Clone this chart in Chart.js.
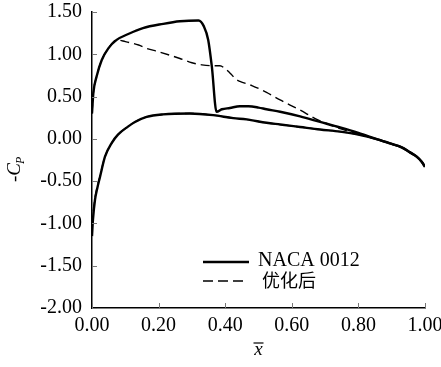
<!DOCTYPE html>
<html>
<head>
<meta charset="utf-8">
<script src="https://cdn.jsdelivr.net/npm/chart.js@4"></script>
<style>
  html, body { margin: 0; padding: 0; background: #fff; }
  #wrap { width: 441px; height: 367px; position: relative; }
</style>
</head>
<body>
<div id="wrap"><canvas id="c" width="441" height="367"></canvas></div>
<script>
// -Cp along the chord
const naca_up_x = [0, 0.004, 0.014, 0.029, 0.049, 0.074, 0.109, 0.153, 0.214, 0.264, 0.32, 0.336, 0.349, 0.36, 0.374, 0.39, 0.414, 0.444, 0.47, 0.50, 0.524, 0.565, 0.625, 0.685, 0.745, 0.80, 0.86, 0.90, 0.93, 0.955, 0.975, 0.99, 1.0];
const naca_up_y = [0.30, 0.54, 0.74, 0.93, 1.07, 1.17, 1.24, 1.31, 1.36, 1.39, 1.40, 1.33, 1.17, 0.85, 0.32, 0.35, 0.365, 0.385, 0.385, 0.37, 0.35, 0.32, 0.265, 0.20, 0.135, 0.07, -0.01, -0.06, -0.10, -0.16, -0.21, -0.27, -0.33];
const naca_lo_x = [0, 0.003, 0.009, 0.016, 0.024, 0.039, 0.059, 0.078, 0.108, 0.129, 0.164, 0.214, 0.294, 0.364, 0.424, 0.464, 0.524, 0.565, 0.625, 0.685, 0.745, 0.80, 0.86, 0.90, 0.93, 0.955, 0.975, 0.99, 1.0];
const naca_lo_y = [-1.15, -0.95, -0.72, -0.58, -0.45, -0.21, -0.05, 0.05, 0.145, 0.20, 0.26, 0.29, 0.30, 0.28, 0.245, 0.23, 0.19, 0.17, 0.14, 0.11, 0.085, 0.05, -0.01, -0.06, -0.10, -0.16, -0.21, -0.27, -0.33];
const opt_up_x = [0, 0.004, 0.014, 0.029, 0.049, 0.074, 0.10, 0.14, 0.164, 0.20, 0.264, 0.30, 0.33, 0.36, 0.384, 0.40, 0.414, 0.434, 0.444, 0.48, 0.524, 0.565, 0.625, 0.675, 0.70, 0.745, 0.80, 0.86, 0.90, 0.93, 0.955, 0.975, 0.99, 1.0];
const opt_up_y = [0.30, 0.54, 0.74, 0.93, 1.07, 1.17, 1.15, 1.11, 1.07, 1.03, 0.95, 0.90, 0.875, 0.865, 0.865, 0.83, 0.78, 0.70, 0.68, 0.63, 0.55, 0.46, 0.34, 0.23, 0.19, 0.12, 0.06, -0.01, -0.06, -0.10, -0.16, -0.21, -0.27, -0.33];
const opt_lo_x = [0, 0.003, 0.009, 0.016, 0.024, 0.039, 0.059, 0.078, 0.108, 0.129, 0.164, 0.214, 0.294, 0.364, 0.424, 0.464, 0.524, 0.565, 0.625, 0.685, 0.745, 0.80, 0.86, 0.90, 0.93, 0.955, 0.975, 0.99, 1.0];
const opt_lo_y = [-1.02, -0.90, -0.70, -0.56, -0.44, -0.21, -0.05, 0.05, 0.145, 0.20, 0.26, 0.29, 0.30, 0.28, 0.245, 0.23, 0.19, 0.17, 0.14, 0.11, 0.085, 0.05, -0.01, -0.06, -0.10, -0.16, -0.21, -0.27, -0.33];

const xTicks = [0, 0.2, 0.4, 0.6, 0.8, 1.0];
const yTicks = [-2.0, -1.5, -1.0, -0.5, 0.0, 0.5, 1.0, 1.5];
const legendNames = ["NACA 0012", "优化后"];

const SERIF = "'Liberation Serif', 'DejaVu Serif', serif";
const CJK = "'Noto Sans CJK SC', sans-serif";

function pts(xs, ys) {
  return xs.map((x, i) => ({ x: x, y: ys[i] }));
}

function line(data, dashed) {
  return {
    data: data,
    showLine: true,
    borderColor: "#000",
    borderWidth: dashed ? 1.4 : 2.4,
    borderDash: dashed ? [9, 5] : [],
    pointRadius: 0,
    cubicInterpolationMode: "monotone",
    fill: false,
  };
}

// no label overflow padding: plot box is fixed by layout.padding
function noScalePad(s) {
  s.paddingTop = 0; s.paddingBottom = 0; s.paddingLeft = 0; s.paddingRight = 0;
}

// inside tick marks, axis titles and the legend box
const extras = {
  id: "extras",
  afterDraw(chart) {
    const ctx = chart.ctx;
    const xs = chart.scales.x, ys = chart.scales.y;
    const a = chart.chartArea;
    ctx.save();
    ctx.strokeStyle = "#777";
    ctx.lineWidth = 1;
    for (const v of yTicks) {
      const py = Math.round(ys.getPixelForValue(v)) + 0.5;
      ctx.beginPath(); ctx.moveTo(a.left, py); ctx.lineTo(a.left + 5, py); ctx.stroke();
    }
    for (const v of xTicks) {
      const px = Math.round(xs.getPixelForValue(v)) + 0.5;
      ctx.beginPath(); ctx.moveTo(px, a.bottom); ctx.lineTo(px, a.bottom - 5); ctx.stroke();
    }

    // x title: x with overline
    ctx.fillStyle = "#000";
    ctx.font = "italic 19px " + SERIF;
    ctx.textAlign = "center";
    ctx.textBaseline = "alphabetic";
    const cx = (a.left + a.right) / 2;
    ctx.fillText("x", cx, 355);
    ctx.strokeStyle = "#000";
    ctx.lineWidth = 1.2;
    ctx.beginPath(); ctx.moveTo(cx - 5, 343); ctx.lineTo(cx + 5, 343); ctx.stroke();

    // y title: -C_P rotated
    ctx.save();
    ctx.translate(20, 182);
    ctx.rotate(-Math.PI / 2);
    ctx.textAlign = "left";
    ctx.font = "19px " + SERIF;
    ctx.fillText("-", 0, 0);
    let w = ctx.measureText("-").width;
    ctx.font = "italic 19px " + SERIF;
    ctx.fillText("C", w, 0);
    w += ctx.measureText("C").width;
    ctx.font = "italic 12px " + SERIF;
    ctx.fillText("P", w - 1, 4);
    ctx.restore();

    // legend
    ctx.strokeStyle = "#000";
    ctx.lineWidth = 2.4;
    ctx.setLineDash([]);
    ctx.beginPath(); ctx.moveTo(203, 262); ctx.lineTo(249, 262); ctx.stroke();
    ctx.lineWidth = 1.4;
    ctx.setLineDash([10, 5]);
    ctx.beginPath(); ctx.moveTo(203, 281); ctx.lineTo(246, 281); ctx.stroke();
    ctx.setLineDash([]);
    ctx.textAlign = "left";
    ctx.font = "20px " + SERIF;
    ctx.fillText(legendNames[0], 258, 266);
    ctx.font = "18px " + CJK;
    ctx.fillText(legendNames[1], 262, 287);
    ctx.restore();
  },
};

new Chart(document.getElementById("c"), {
  type: "scatter",
  data: {
    datasets: [
      line(pts(opt_up_x, opt_up_y), true),
      line(pts(opt_lo_x, opt_lo_y), true),
      line(pts(naca_up_x, naca_up_y), false),
      line(pts(naca_lo_x, naca_lo_y), false),
    ],
  },
  options: {
    responsive: false,
    animation: false,
    layout: { padding: { top: 12, right: 16, left: 0, bottom: 0 }, autoPadding: false },
    plugins: { legend: { display: false }, tooltip: { enabled: false } },
    scales: {
      x: {
        type: "linear",
        min: 0, max: 1,
        afterBuildTicks: (s) => { s.ticks = xTicks.map((v) => ({ value: v })); },
        afterFit: (s) => { s.height = 59; noScalePad(s); },
        grid: { display: false, drawTicks: false },
        border: { display: true, color: "#000", width: 1.5 },
        ticks: {
          color: "#000",
          padding: 6,
          maxRotation: 0,
          font: { family: SERIF, size: 20 },
          callback: (v) => Number(v).toFixed(2),
        },
      },
      y: {
        type: "linear",
        min: -2, max: 1.5,
        afterBuildTicks: (s) => { s.ticks = yTicks.map((v) => ({ value: v })); },
        afterFit: (s) => { s.width = 92; noScalePad(s); },
        grid: { display: false, drawTicks: false },
        border: { display: true, color: "#000", width: 1.5 },
        ticks: {
          color: "#000",
          padding: 10,
          font: { family: SERIF, size: 20 },
          callback: (v) => Number(v).toFixed(2),
        },
      },
    },
  },
  plugins: [extras],
});
</script>
</body>
</html>
